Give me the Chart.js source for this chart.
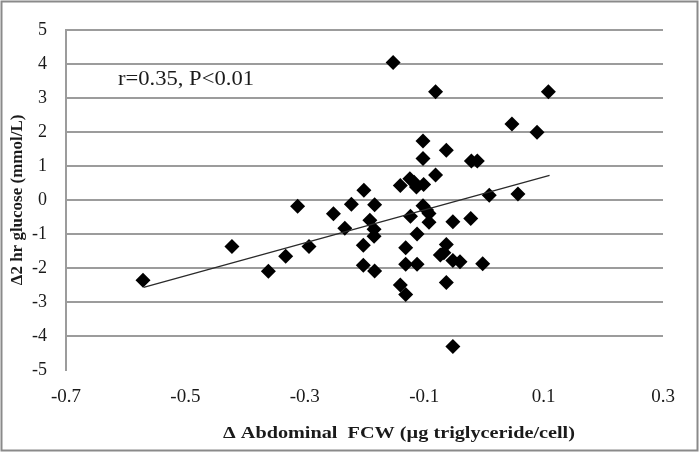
<!DOCTYPE html>
<html>
<head>
<meta charset="utf-8">
<script src="https://cdn.jsdelivr.net/npm/chart.js@4/dist/chart.umd.min.js"></script>
<style>
    html, body { margin: 0; padding: 0; background: #fff; }
    #wrap { width: 700px; height: 454px; }
</style>
</head>
<body>
<div id="wrap"><canvas id="chart"></canvas></div>
<script>
// Δ Abdominal FCW (x) và Δ 2h glucose (y)
const fcwChange = [
    -0.571, -0.422, -0.361, -0.332, -0.312, -0.293, -0.252, -0.233, -0.222, -0.201,
    -0.202, -0.202, -0.183, -0.191, -0.184, -0.184, -0.183, -0.152, -0.140, -0.140,
    -0.131, -0.131, -0.131, -0.123, -0.124, -0.117, -0.113, -0.112, -0.112, -0.101,
    -0.102, -0.102, -0.102, -0.096, -0.092, -0.092, -0.081, -0.081, -0.063, -0.063,
    -0.063, -0.073, -0.067, -0.052, -0.052, -0.040, -0.052, -0.022, -0.021, -0.011,
    -0.002, 0.009, 0.047, 0.057, 0.089, 0.108
];
const glucoseChange = [
    -2.36, -1.37, -2.10, -1.66, -0.19, -1.37, -0.41, -0.83, -0.13, 0.28,
    -1.33, -1.92, -0.14, -0.60, -0.86, -1.07, -2.09, 4.04, 0.42, -2.50,
    -2.78, -1.41, -1.89, -0.48, 0.62, 0.52, 0.38, -1.00, -1.89, 0.45,
    1.73, 1.22, -0.17, -0.30, -0.40, -0.66, 3.18, 0.73, 1.46, -1.31,
    -2.43, -1.62, -1.55, -0.64, -1.78, -1.82, -4.31, -0.55, 1.14, 1.14,
    -1.88, 0.14, 2.23, 0.17, 1.99, 3.18
];

// Đường xu hướng (hai đầu mút)
const trendX = [-0.57, 0.11];
const trendY = [-2.57, 0.72];

// Nhãn trục
const xTicks = [-0.7, -0.5, -0.3, -0.1, 0.1, 0.3];
const yMin = -5;
const yMax = 5;

const serif = '"Liberation Serif", "Times New Roman", serif';
const gridGray = '#9c9c9c';

// Vẽ chữ kéo giãn theo chiều ngang (hình gốc bị giãn ngang)
function stretchedText(ctx, text, x, y, sx) {
    ctx.save();
    ctx.translate(x, y);
    ctx.scale(sx, 1);
    ctx.fillText(text, 0, 0);
    ctx.restore();
}

// Khung viền, chú thích r/P và tiêu đề trục X
const extras = {
    id: 'extras',
    afterDraw(chart) {
        const ctx = chart.ctx;
        ctx.save();
        ctx.strokeStyle = '#8a8a8a';
        ctx.lineWidth = 2;
        ctx.strokeRect(1.5, 1.5, 696, 449);

        ctx.fillStyle = '#1a1a1a';
        ctx.textBaseline = 'middle';
        ctx.textAlign = 'left';
        ctx.font = '20px ' + serif;
        stretchedText(ctx, 'r=0.35, P<0.01', 118, 80, 1.13);

        ctx.textAlign = 'center';
        ctx.font = 'bold 17px ' + serif;
        stretchedText(ctx, '\u0394 Abdominal  FCW (\u00b5g triglyceride/cell)', 399, 434, 1.19);
        ctx.restore();
    }
};

const points = fcwChange.map((x, i) => ({ x: x, y: glucoseChange[i] }));
const trendPoints = trendX.map((x, i) => ({ x: x, y: trendY[i] }));

new Chart(document.getElementById('chart'), {
    type: 'scatter',
    data: {
        datasets: [
            {
                type: 'line',
                label: 'Trend',
                data: trendPoints,
                borderColor: '#2a2a2a',
                borderWidth: 1.3,
                pointRadius: 0,
                fill: false
            },
            {
                label: 'Data',
                data: points,
                pointStyle: 'rectRot',
                pointRadius: 7.5,
                backgroundColor: '#000',
                borderWidth: 0
            }
        ]
    },
    options: {
        responsive: true,
        maintainAspectRatio: false,
        animation: false,
        layout: { padding: { left: 2, right: 37, top: 27, bottom: 0 } },
        plugins: {
            legend: { display: false },
            tooltip: { enabled: false }
        },
        scales: {
            x: {
                type: 'linear',
                min: -0.7,
                max: 0.3,
                afterBuildTicks: scale => { scale.ticks = xTicks.map(v => ({ value: v })); },
                afterFit: scale => { scale.height = 84; },
                grid: { display: false },
                border: { display: false },
                ticks: {
                    padding: 8,
                    color: '#1a1a1a',
                    font: { family: serif, size: 19 },
                    callback: v => v.toFixed(1)
                }
            },
            y: {
                type: 'linear',
                min: yMin,
                max: yMax,
                afterFit: scale => { scale.width = 64; },
                grid: {
                    drawTicks: false,
                    lineWidth: 2,
                    color: c => (c.tick && c.tick.value === yMin) ? 'rgba(0,0,0,0)' : gridGray
                },
                border: { display: true, color: gridGray, width: 2 },
                ticks: {
                    stepSize: 1,
                    padding: 19,
                    color: '#1a1a1a',
                    font: { family: serif, size: 18 }
                },
                title: {
                    display: true,
                    text: '\u03942 hr glucose (mmol/L)',
                    color: '#1a1a1a',
                    font: { family: serif, size: 17, weight: 'bold' },
                    padding: { top: 5, bottom: 0 }
                }
            }
        }
    },
    plugins: [extras]
});
</script>
</body>
</html>
